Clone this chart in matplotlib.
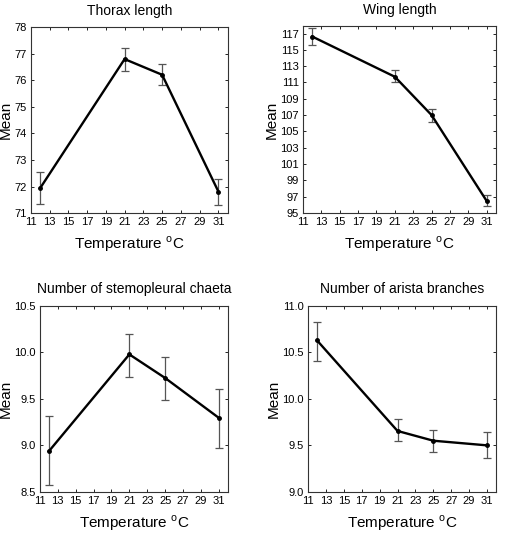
import numpy as np
import matplotlib
matplotlib.use('Agg')
import matplotlib.pyplot as plt
from matplotlib.ticker import FormatStrFormatter

plt.rcParams['font.family'] = ['Liberation Sans', 'DejaVu Sans']
plt.rcParams['mathtext.fontset'] = 'custom'
plt.rcParams['mathtext.rm'] = 'Liberation Sans'

temps = [12, 21, 25, 31]

# средние и границы доверительных интервалов
thorax_mean = [71.94, 76.80, 76.21, 71.81]
thorax_low  = [71.34, 76.36, 75.81, 71.31]
thorax_high = [72.54, 77.21, 76.60, 72.29]

wing_mean = [116.63, 111.70, 107.00, 96.47]
wing_low  = [115.57, 111.09, 106.16, 95.82]
wing_high = [117.70, 112.48, 107.70, 97.17]

chaeta_mean = [8.936, 9.979, 9.725, 9.296]
chaeta_low  = [8.575, 9.736, 9.489, 8.975]
chaeta_high = [9.314, 10.20, 9.954, 9.604]

arista_mean = [10.63, 9.655, 9.55, 9.50]
arista_low  = [10.41, 9.55, 9.43, 9.36]
arista_high = [10.83, 9.78, 9.67, 9.64]

fig = plt.figure(figsize=(5.05, 5.34), dpi=100)

panels = [
    ('Thorax length', thorax_mean, thorax_low, thorax_high,
     [0.061, 0.601, 0.390, 0.348], (71, 78), np.arange(71, 78.1, 1), '%d'),
    ('Wing length', wing_mean, wing_low, wing_high,
     [0.600, 0.601, 0.382, 0.350], (95, 117.9), np.arange(95, 117.1, 2), '%d'),
    ('Number of stemopleural chaeta', chaeta_mean, chaeta_low, chaeta_high,
     [0.079, 0.079, 0.372, 0.348], (8.5, 10.5), np.arange(8.5, 10.51, 0.5), '%.1f'),
    ('Number of arista branches', arista_mean, arista_low, arista_high,
     [0.610, 0.079, 0.372, 0.348], (9.0, 11.0), np.arange(9.0, 11.01, 0.5), '%.1f'),
]

for title, mean, low, high, pos, ylim, yticks, fmt in panels:
    ax = fig.add_axes(pos)
    mean = np.array(mean)
    err = [mean - np.array(low), np.array(high) - mean]
    ax.errorbar(temps, mean, yerr=err, fmt='none', ecolor='#555555',
                elinewidth=0.9, capsize=3, capthick=0.9)
    ax.plot(temps, mean, color='black', lw=1.7, marker='o', ms=2.5)
    ax.set_xlim(11, 32)
    ax.set_ylim(*ylim)
    ax.set_xticks(np.arange(11, 32, 2))
    ax.set_yticks(yticks)
    ax.yaxis.set_major_formatter(FormatStrFormatter(fmt))
    ax.tick_params(direction='in', length=2, width=0.6, labelsize=8,
                   top=True, right=True, pad=3)
    for s in ax.spines.values():
        s.set_linewidth(0.8)
        s.set_color('#333333')
    ax.set_title(title, fontsize=10, pad=9)
    ax.set_xlabel('Temperature $^{\\mathrm{o}}$C', fontsize=11, labelpad=5)
    ax.set_ylabel('Mean', fontsize=11, labelpad=1)

fig.savefig('out.png', dpi=100)
